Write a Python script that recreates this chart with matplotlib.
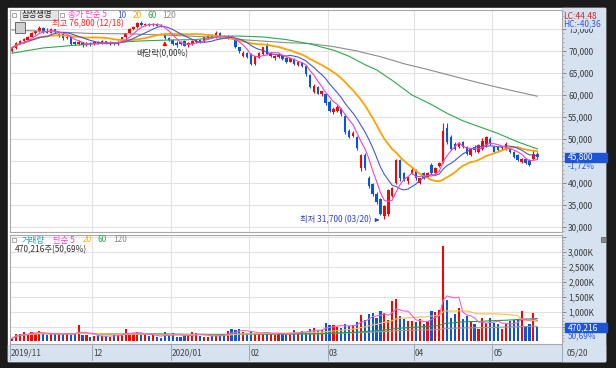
import numpy as np
import pandas as pd
import matplotlib
matplotlib.use('Agg')
import matplotlib.pyplot as plt
from matplotlib.patches import Rectangle
from matplotlib.ticker import MultipleLocator

plt.rcParams['font.family'] = ['Noto Sans CJK KR', 'DejaVu Sans']

# trading days shown per month (2019/11 .. 2020/05/20)
month_labels = ['2019/11', '12', '2020/01', '02', '03', '04', '05']
month_days = [21, 20, 20, 20, 22, 20, 12]
last_date = '05/20'

# daily OHLC (won)
opens = [
    69900, 70700, 71800, 72300, 72600, 73300, 74100, 74500, 75200, 74400, 74200, 74900, 73500, 73900, 72900, 73200, 72000, 71500, 72000, 71300, 71800,
    71500, 72000, 71700, 72200, 71700, 71900, 71500, 72100, 73100, 74000, 75000, 75400, 76300, 76000, 76200, 75900, 76100, 75800, 73800, 73000,
    72500, 71800, 72000, 72200, 71300, 71600, 72000, 72600, 72200, 73000, 73700, 73100, 74200, 73500, 73000, 73400, 72800, 70800, 68900, 69600,
    69300, 67000, 68500, 69300, 71400, 68900, 68300, 68600, 69000, 68500, 67600, 68100, 66700, 67300, 66500, 64500, 60700, 61800, 60100, 60200,
    58300, 56000, 56400, 56700, 55200, 51800, 50600, 50400, 43300, 46200, 41000, 39600, 37400, 36200, 32400, 32800, 37000, 40000, 45100, 42100, 40300, 42200,
    42900, 39950, 42150, 41400, 44000, 42200, 43700, 44800, 52500, 50350, 48900, 48150, 49250, 48150, 46250, 48150, 47000, 47750, 48500, 50000,
    48150, 48100, 47800, 47750, 47750, 47000, 46250, 44800, 45500, 45150, 45500, 46600,
]
highs = [
    70900, 72000, 72500, 73000, 73500, 74300, 74800, 75700, 75400, 75300, 75200, 75100, 74200, 74000, 73600, 73300, 72300, 72400, 72100, 72000, 72000,
    72300, 72200, 72400, 72300, 72200, 72100, 72300, 73300, 74200, 75200, 75600, 76500, 76800, 76300, 76400, 76300, 76300, 76100, 74000, 73300,
    72700, 72200, 72200, 72400, 72000, 72500, 72600, 72800, 73300, 73700, 73900, 74500, 74400, 73700, 73600, 73600, 73000, 71000, 70000, 69800,
    69500, 68900, 69800, 70900, 71800, 69800, 69200, 69500, 69200, 68700, 68500, 68300, 67600, 67500, 66700, 64700, 62400, 62000, 61000, 60500,
    58800, 57300, 57700, 57000, 55600, 52300, 51800, 50700, 46500, 46800, 41500, 40000, 37800, 36500, 34900, 38600, 39000, 45500, 45500, 42400, 41400, 43500,
    43200, 41100, 42400, 42500, 44400, 43600, 44800, 53600, 53600, 50800, 49200, 49200, 49600, 48400, 48000, 48500, 48800, 50100, 50700, 50400,
    48400, 48400, 48400, 49300, 48000, 47200, 46500, 45700, 45700, 45400, 47400, 46900,
]
lows = [
    69700, 70500, 71500, 71900, 72400, 73100, 73800, 74300, 74200, 74000, 74000, 74000, 73300, 72600, 72700, 71400, 71300, 71300, 71000, 71100, 71200,
    71400, 71500, 71600, 71500, 71400, 71300, 71400, 72000, 72900, 73800, 74700, 75200, 75800, 75700, 75800, 75700, 75600, 75400, 72700, 72300,
    71400, 71000, 71300, 71100, 71000, 71400, 71800, 71900, 72000, 72700, 72900, 73000, 73000, 72900, 72800, 72800, 70600, 69600, 68700, 68400,
    66800, 66700, 68300, 69000, 69200, 68700, 68000, 68300, 67900, 67300, 67400, 66800, 66500, 66300, 64400, 61500, 60400, 60100, 59800, 57800,
    56000, 55700, 56100, 55300, 51200, 50100, 50300, 47400, 42600, 43000, 38800, 37000, 35200, 32600, 31700, 32400, 36800, 39800, 40500, 40400, 39800, 42000,
    40700, 39600, 40800, 41200, 42000, 42000, 43500, 44600, 48900, 47400, 47500, 47900, 47900, 46300, 46000, 47100, 46800, 47500, 48200, 48600,
    46800, 47100, 47500, 47500, 46800, 45600, 44900, 44600, 44200, 43800, 45200, 45500,
]
closes = [
    70700, 71800, 72300, 72800, 73300, 74100, 74500, 75200, 74400, 74200, 74900, 74300, 73900, 72900, 73300, 71700, 71500, 72100, 71300, 71600, 71500,
    72100, 71700, 72200, 71700, 71900, 71500, 72100, 73100, 74000, 75000, 75400, 76300, 76000, 76200, 75900, 76100, 75800, 75600, 73000, 72500,
    71600, 71300, 71500, 71200, 71800, 72300, 72500, 72100, 73100, 73500, 73100, 74200, 73200, 73000, 73400, 73000, 70800, 69900, 69600, 68600,
    67000, 68800, 69500, 70800, 69300, 69600, 68900, 69200, 68100, 67500, 68300, 67000, 67400, 66600, 64800, 61800, 62100, 60300, 60800, 58100,
    56300, 56800, 57200, 55600, 51500, 50400, 51300, 47800, 46200, 43300, 39200, 37400, 35500, 32800, 34700, 38300, 38800, 45100, 41000, 40700, 41200, 43000,
    41100, 41050, 41050, 42100, 42200, 43300, 44400, 51800, 49250, 47750, 47750, 48900, 48150, 46650, 47750, 47400, 48500, 49600, 50350, 48900,
    47000, 47400, 48100, 48900, 47000, 45900, 45150, 45500, 44400, 44050, 46600, 45800,
]
# volume, thousand shares
volumes_k = [
    100, 250, 240, 300, 260, 330, 270, 350, 240, 200, 290, 250, 260, 240, 280, 230, 250, 550, 210, 230, 140,
    180, 200, 170, 190, 160, 200, 240, 250, 430, 220, 260, 300, 230, 200, 180, 220, 150, 130, 300, 200,
    290, 160, 150, 190, 200, 300, 270, 180, 160, 150, 190, 240, 200, 200, 350, 400, 380, 400, 300, 280,
    320, 280, 260, 290, 330, 250, 230, 260, 240, 260, 250, 380, 300, 350, 300, 410, 450, 350, 380, 620,
    545, 545, 480, 450, 600, 520, 560, 640, 900, 720, 930, 950, 780, 1020, 940, 710, 1350, 1430, 860, 740, 690, 670,
    650, 740, 600, 670, 1010, 1000, 1045, 3200, 1380, 780, 930, 1110, 740, 855, 655, 580, 410, 780, 610, 800,
    630, 600, 410, 600, 690, 710, 730, 1020, 500, 580, 950, 470.216,
]
# 60 / 120 day price averages (need history before the window)
ma60_idx = [0, 8, 16, 24, 33, 40, 47, 53, 58, 64, 70, 76, 82, 86, 90, 93, 97, 102, 107, 111, 115, 120, 124, 129, 134]
ma60_val = [69500, 70700, 71300, 71800, 72300, 72500, 72600, 73300, 73400, 73200, 72600, 71600, 70200, 68800, 66900,
            65700, 63300, 60000, 57800, 55800, 54100, 52500, 51200, 49300, 47700]
ma120_idx = [0, 10, 20, 30, 40, 50, 60, 70, 76, 82, 88, 94, 100, 106, 112, 118, 124, 130, 134]
ma120_val = [74800, 74400, 74000, 73900, 73600, 73200, 72500, 71900, 71700, 71000, 70000, 68700, 67100, 65800,
             64400, 63000, 61700, 60500, 59700]

UP, DOWN = '#ff0000', '#0a55d8'
C5, C10, C20, C60, C120 = '#ff3cc8', '#4658d6', '#ffa200', '#2eaa4a', '#8c8c8c'
PANEL = '#d6e2f0'

W, H = 616, 368
fig = plt.figure(figsize=(W / 100, H / 100), dpi=100, facecolor='#1b1b1b')


def rect(x0, y0, x1, y1, z=-1, **kw):
    fig.add_artist(Rectangle((x0 / W, 1 - y1 / H), (x1 - x0) / W, (y1 - y0) / H,
                             transform=fig.transFigure, zorder=z, **kw))


def ftext(x, y, s, color='#333333', size=6, **kw):
    fig.text(x / W, 1 - y / H, s, color=color, fontsize=size, ha='left', va='center', zorder=7, **kw)


rect(8, 8, 605, 361, z=-3, color='white')
rect(562, 8, 605, 361, z=-2, color=PANEL)
rect(8, 345, 605, 361, z=-2, color=PANEL)

ax = fig.add_axes([10 / W, 1 - 232 / H, 552 / W, 222 / H])
ax_v = fig.add_axes([10 / W, 1 - 344 / H, 552 / W, 109 / H], sharex=ax)

x = np.arange(len(closes))
o, h, l, c = (np.array(a, float) for a in (opens, highs, lows, closes))
vol = np.array(volumes_k) * 1000
cols = np.where(c >= o, UP, DOWN)
starts = np.cumsum([0] + month_days[:-1])

# candles
ax.vlines(x, l, h, colors=cols, linewidth=0.8, zorder=2)
ax.bar(x, np.maximum(np.abs(c - o), 90), bottom=np.minimum(o, c), width=0.62,
       color=cols, linewidth=0, zorder=2)

s = pd.Series(c)
ax.plot(ma120_idx, ma120_val, color=C120, lw=0.8, zorder=3)
ax.plot(ma60_idx, ma60_val, color=C60, lw=0.8, zorder=3)
ax.plot(x, s.rolling(20, min_periods=1).mean(), color=C20, lw=1.3, zorder=3)
ax.plot(x, s.rolling(10, min_periods=1).mean(), color=C10, lw=0.8, zorder=3)
ax.plot(x, s.rolling(5, min_periods=1).mean(), color=C5, lw=0.8, zorder=3)

# volume
ax_v.bar(x, vol, width=0.55, color=cols, linewidth=0, zorder=2)
vs = pd.Series(vol)
ax_v.plot(x, vs.rolling(120, min_periods=1).mean(), color='#999999', lw=0.8, zorder=3)
ax_v.plot(x, vs.rolling(60, min_periods=1).mean(), color='#20a040', lw=0.8, zorder=3)
ax_v.plot(x, vs.rolling(20, min_periods=1).mean(), color='#ffc040', lw=0.8, zorder=3)
ax_v.plot(x, vs.rolling(5, min_periods=1).mean(), color='#f060d8', lw=0.8, zorder=3)

ax.set_xlim(-0.5, 140.3)
ax.set_ylim(28770, 79340)
ax_v.set_ylim(-87000, 3570000)

for a in (ax, ax_v):
    a.set_facecolor('white')
    a.yaxis.tick_right()
    a.tick_params(axis='x', bottom=False, labelbottom=False)
    a.tick_params(axis='y', which='major', length=3, width=0.6, colors='#777777',
                  labelcolor='#3a3a3a', labelsize=6, pad=1.5)
    a.tick_params(axis='y', which='minor', length=1.5, width=0.5, colors='#999999')
    a.grid(axis='y', which='major', color='#e2e2e2', lw=0.8)
    a.set_axisbelow(True)
    for b in starts[1:]:
        a.axvline(b - 0.5, color='#e2e2e2', lw=0.8, zorder=0)
    for sp in a.spines.values():
        sp.set_color('#a8a8a8')
        sp.set_linewidth(0.8)

pt = np.arange(30000, 80000, 5000)
ax.set_yticks(pt)
ax.set_yticklabels(['' if v == 45000 else f'{v:,}' for v in pt])
ax.yaxis.set_minor_locator(MultipleLocator(1000))

vt = np.arange(500000, 3600000, 500000)
ax_v.set_yticks(vt)
ax_v.set_yticklabels(['' if v in (500000, 3500000) else f'{v // 1000:,}K' for v in vt])
ax_v.yaxis.set_minor_locator(MultipleLocator(100000))

# date band
tr = ax_v.get_xaxis_transform()
for b, lab in zip(starts, month_labels):
    ax_v.plot([b - 0.5, b - 0.5], [0, -0.15], color='#9aa8b8', lw=0.7, transform=tr, clip_on=False)
    ax_v.text(b - 0.2, -0.083, lab, transform=tr, fontsize=6, color='#444444', va='center', ha='left')
ftext(567, 353, last_date, color='#444444')
fig.add_artist(plt.Line2D([562 / W, 562 / W], [1 - 361 / H, 1 - 345 / H], color='#9aa8b8', lw=0.7))

# current value boxes
ytr = ax.get_yaxis_transform()
ax.add_patch(Rectangle((1.005, c[-1] - 1030), 0.077, 2060, transform=ytr, clip_on=False,
                       color='#1e55d6', zorder=10))
ax.text(1.01, c[-1], f'{int(c[-1]):,}', transform=ytr, color='white', fontsize=6, va='center', zorder=11)
ax.text(1.01, c[-1] - 2000, f'{(c[-1] / c[-2] - 1) * 100:.2f}%'.replace('.', ','), transform=ytr,
        color='#2a5ce0', fontsize=6, va='center', zorder=11)

vtr = ax_v.get_yaxis_transform()
ax_v.add_patch(Rectangle((1.005, vol[-1] - 150000), 0.077, 300000, transform=vtr, clip_on=False,
                         color='#1e55d6', zorder=10))
ax_v.text(1.01, vol[-1], f'{int(vol[-1]):,}', transform=vtr, color='white', fontsize=6, va='center', zorder=11)
ax_v.text(1.01, vol[-1] - 280000, '50,69%', transform=vtr, color='#2a5ce0', fontsize=6, va='center', zorder=11)

# annotations on price panel
imax = int(np.argmax(h))
imin = int(np.argmin(l))
ax.annotate('', xy=(39, 72900), xytext=(39, 70600),
            arrowprops=dict(arrowstyle='-|>', color='red', lw=0.8, mutation_scale=6), zorder=5)
ax.text(31.6, 69300, '배당락(0,00%)', fontsize=6, color='#333333', va='center', zorder=5)
ax.annotate(f'최저 {int(l[imin]):,} (03/20)', xy=(imin - 0.6, l[imin] - 200), xytext=(imin - 3.3, l[imin] - 200),
            fontsize=6, color='#2d44c0', va='center', ha='right',
            arrowprops=dict(arrowstyle='-|>', color='#2d44c0', lw=0.8, mutation_scale=5), zorder=5)

# legends
rect(12, 13, 16, 17, z=5, fc='white', ec='#888888', lw=0.5)
rect(20, 10, 58, 20, z=5, fc='#e4e4e4', ec='#9a9a9a', lw=0.6)
ftext(22, 15, '삼성생명', color='#222222')
rect(60, 13, 64, 17, z=5, fc='white', ec='#888888', lw=0.5)
ftext(68, 15, '종가 단순 5', color=C5)
ftext(117, 15, '10', color=C10)
ftext(133, 15, '20', color=C20)
ftext(148, 15, '60', color=C60)
ftext(162, 15, '120', color=C120)
rect(15, 22, 25, 33, z=5, fc='#d0d0d0', ec='#555555', lw=0.6)
ftext(52, 23.5, f'최고 {int(h[imax]):,} (12/18)', color='#ff2020')

rect(12, 238, 16, 242, z=5, fc='white', ec='#888888', lw=0.5)
ftext(22, 240, '거래량', color='#1aa0a8')
ftext(53, 240, '단순 5', color=C5)
ftext(83, 240, '20', color='#ffb020')
ftext(97, 240, '60', color=C60)
ftext(113, 240, '120', color=C120)
ftext(15, 249.5, f'{int(vol[-1]):,}주(50,69%)', color='#333333')

ftext(563, 15.5, 'LC:44,48', color='#e02020')
ftext(563, 24, 'HC:-40,36', color='#2a5ce0', bbox=dict(fc=PANEL, ec='none', pad=0.3))
rect(601, 237, 606, 242, z=5, fc='#888888', ec='#555555', lw=0.5)

fig.savefig('out.png', dpi=100, facecolor=fig.get_facecolor())
